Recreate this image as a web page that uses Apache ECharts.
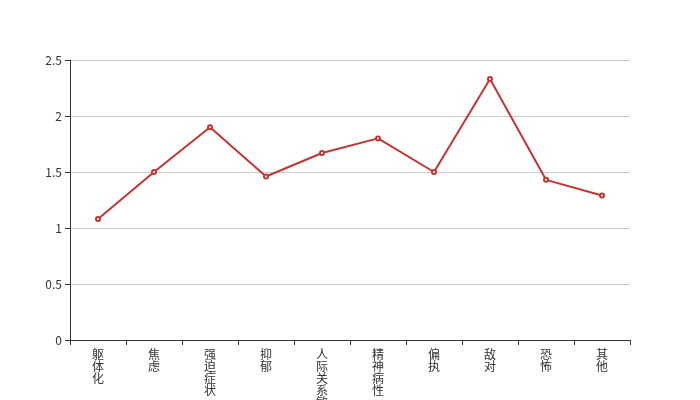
<!DOCTYPE html>
<html>
<head>
<meta charset="utf-8">
<script src="https://cdn.jsdelivr.net/npm/echarts@6/dist/echarts.min.js"></script>
<style>html,body{margin:0;padding:0;background:#fff;}#main{width:700px;height:400px;}</style>
</head>
<body>
<div id="main"></div>
<script>
var categories = ['躯体化','焦虑','强迫症状','抑郁','人际关系敏感','精神病性','偏执','敌对','恐怖','其他'];
var values = [1.08, 1.50, 1.90, 1.46, 1.67, 1.80, 1.50, 2.33, 1.43, 1.29];
var yTicks = [0, 0.5, 1, 1.5, 2, 2.5];

var chart = echarts.init(document.getElementById('main'));
chart.setOption({
  animation: false,
  grid: {left: 70, right: 70, top: 60, bottom: 60, containLabel: false, outerBoundsMode: 'none'},
  textStyle: {fontFamily: '"Noto Sans CJK SC", sans-serif'},
  xAxis: {
    type: 'category',
    data: categories,
    boundaryGap: true,
    axisLine: {lineStyle: {color: '#333'}},
    axisTick: {show: true, alignWithLabel: false, lineStyle: {color: '#333'}, length: 5},
    axisLabel: {
      interval: 0,
      margin: 8,
      color: '#333',
      fontSize: 12,
      lineHeight: 12,
      formatter: function (v) { return v.split('').join('\n'); }
    }
  },
  yAxis: {
    type: 'value',
    min: 0,
    max: 2.5,
    interval: 0.5,
    axisLine: {show: true, lineStyle: {color: '#333'}},
    axisTick: {show: true, lineStyle: {color: '#333'}, length: 5},
    axisLabel: {color: '#333', fontSize: 12, formatter: function (v) { return yTicks.indexOf(v) >= 0 ? String(v) : ''; }},
    splitLine: {lineStyle: {color: '#ccc'}}
  },
  series: [{
    type: 'line',
    data: values,
    symbol: 'emptyCircle',
    symbolSize: 4,
    itemStyle: {color: '#c23531'},
    lineStyle: {color: '#c23531', width: 2}
  }]
});
</script>
</body>
</html>
